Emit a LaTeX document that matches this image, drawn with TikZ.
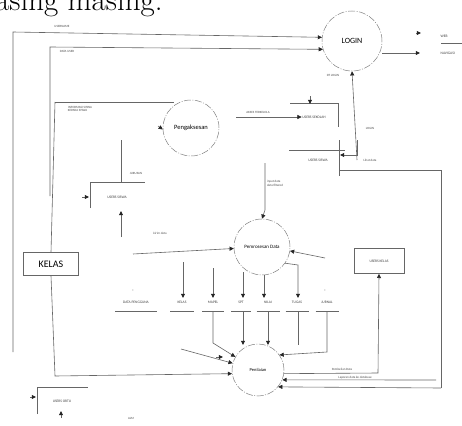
\documentclass[tikz,border=0pt]{standalone}
\usepackage{fontspec}
\setsansfont{Carlito}
\usetikzlibrary{arrows.meta}
\begin{document}
\begin{tikzpicture}[x=1pt,y=-1pt,
  flow/.style={draw=black!60,line width=0.6pt},
  arr/.style={flow,-{Triangle[length=4.2pt,width=4pt,color=black!85]}},
  proc/.style={circle,draw=black!50,line width=0.5pt,dash pattern=on 7pt off 1.5pt on 1pt off 1.5pt,font=\sffamily,inner sep=0pt},
  lbl/.style={font=\sffamily\fontsize{3.2}{3.8}\selectfont,text=black!70,inner sep=0.5pt,align=left},
  slbl/.style={font=\sffamily\fontsize{3.6}{4}\selectfont,text=black!75,inner sep=0.5pt},
  box/.style={draw=black!60,line width=0.6pt,font=\sffamily,inner sep=0pt}]
\useasboundingbox (0,0) rectangle (462,425);
\fill[white] (0,0) rectangle (462,425);

% running text of the page, cut by the top edge
\node[anchor=base west,inner sep=0pt,font=\fontsize{31}{31}\selectfont] (head) at (-5,11) {asing masing.};

% processes
\node[proc,minimum size=60pt,font=\sffamily\fontsize{8}{9}\selectfont] (login) at (352,41) {LOGIN};
\node[proc,minimum size=56pt,font=\sffamily\fontsize{6.5}{7}\selectfont] (akses) at (191,128) {Pengaksesan};
\node[proc,minimum size=56pt,font=\sffamily\fontsize{5}{6}\selectfont] (olah) at (262,247) {Pemrosesan Data};
\node[proc,minimum size=52pt,font=\sffamily\fontsize{4.5}{5}\selectfont] (nilai) at (258,370) {Penilaian};

% external entities and boxes
\node[box,minimum width=55pt,minimum height=23pt,font=\sffamily\fontsize{10}{11}\selectfont,fill=white] (kelas) at (51,264) {KELAS};
\node[box,minimum width=50pt,minimum height=25pt,slbl] (ukelas) at (379,261) {USERS KELAS};

% open data stores
\draw[flow] (290,103) -- (338,103) -- (338,127);
\node[slbl] (usek) at (314,117) {USERS SEKOLAH};
\draw[flow] (289,150) -- (345,150);
\draw[flow] (339,140) -- (339,176);
\node[slbl] (usis) at (318,160) {USERS SISWA};
\draw[flow] (90,208) -- (90,182) -- (145,182);
\node[slbl] (usis2) at (117,197) {USERS SISWA};
\draw[flow] (37,414) -- (37,387) -- (88,387);
\node[slbl] (uort) at (62,401) {USERS ORTU};
\draw[flow] (441,43) -- (462,43);
\node[slbl,anchor=west] (web) at (440,36) {WEB};
\node[slbl,anchor=west] (nav) at (440,53) {NAVIGASI};

% data stores of the processing step
\foreach \nm/\x/\w/\t in {dp/136/42/DATA PENGGUNA,kl/182/24/KELAS,mp/213/22/MAPEL,sp/241/20/SPT,nl/268/23/NILAI,tg/297/23/TUGAS,jr/327/23/JURNAL}{
  \node[slbl] (\nm) at (\x,302) {\t};
  \draw[flow] (\x-\w/2,311) -- (\x+\w/2,311);
}
\node[slbl] (dpst) at (133,291) {*};
\node[slbl] (jrst) at (325,291) {*};

% frame lines on the left
\draw[arr] (13,352) -- (13,32) -- (login.173);
\node[lbl] (l1) at (62,26) {USERNAME};
\draw[arr] (50,196) -- (50,47) -- (login.196);
\node[lbl] (l2) at (67,51) {DATA USER};
\draw[flow] (55,102) -- (174,102);
\draw[flow] (55,102) -- (kelas.north);
\draw[arr] (kelas.south) -- (55,376) -- (nilai.188);
\node[lbl] (l3) at (80,109) {INFORMASI SISWA\\KEPADA SISWA};
\draw[arr] (158,126) -- (akses.183);

% around Pengaksesan
\draw[arr] (236,117) -- (usek.west);
\node[lbl] (l4) at (258,112) {AKSES TERKELOLA};
\draw[arr] (310,96) -- (310,104);
\node[lbl] (l5) at (333,75) {DT LOGIN};
\draw[arr] (357,160) -- (login.south);
\node[lbl] (l6) at (370,128) {LOGIN};
\draw[arr] (357,140) -- (357,155) -- (340,155);
\draw[flow] (121,140) -- (121,182);
\node[lbl] (l7) at (136,173) {JURUSAN};
\draw[arr] (82,197) -- (89,197);
\draw[arr] (121,237) -- (121,211);
\node[lbl] (l8) at (160,233) {kirim data};

% login outputs
\draw[arr] (login.east) ++(0,12) -- (420,53);
\draw[arr] (416,33) -- (421,33);

% into Pemrosesan Data
\draw[arr] (265,163) -- (265,210) -- (olah.north);
\node[lbl] (l9) at (275,183) {input data\\data filtered};
\draw[arr] (133,254) -- (olah.183);
\draw[arr] (325,258) -- (olah.-8);
\node[lbl] (l10) at (370,160) {Lihat data};
\draw[flow] (339,170) -- (441,170) -- (441,388);

% Pemrosesan Data to stores
\draw[arr] (183,262) -- (183,298);
\draw[arr] (213,268) -- (213,298);
\draw[arr] (243,272) -- (243,298);
\draw[arr] (264,275) -- (264,298);
\draw[arr] (olah.-35) -- (298,265) -- (298,298);

% stores to Penilaian
\draw[arr] (213,311) -- (213,343) -- (nilai.150);
\draw[arr] (243,311) -- (243,345);
\draw[arr] (268,311) -- (268,345);
\draw[flow] (298,311) -- (298,345);
\draw[arr] (327,311) -- (327,352) -- (nilai.35);
\draw[arr] (181,349) -- (nilai.165);
\draw[arr] (216,357) -- (223,357);

% Penilaian outputs
\draw[arr] (nilai.-8) -- (378,373) -- (ukelas.south);
\node[lbl] (l11) at (342,369) {Pembelian Data};
\draw[arr] (436,380) -- (nilai.-22);
\node[lbl] (l12) at (355,378) {Laporan data ke database};
\draw[arr] (441,388) -- (nilai.-40);

% bottom left
\draw[arr] (30,397) -- (36,397);
\draw[arr] (61,418) -- (61,411);
\node[lbl] (l13) at (131,418) {ALM};
\end{tikzpicture}
\end{document}
